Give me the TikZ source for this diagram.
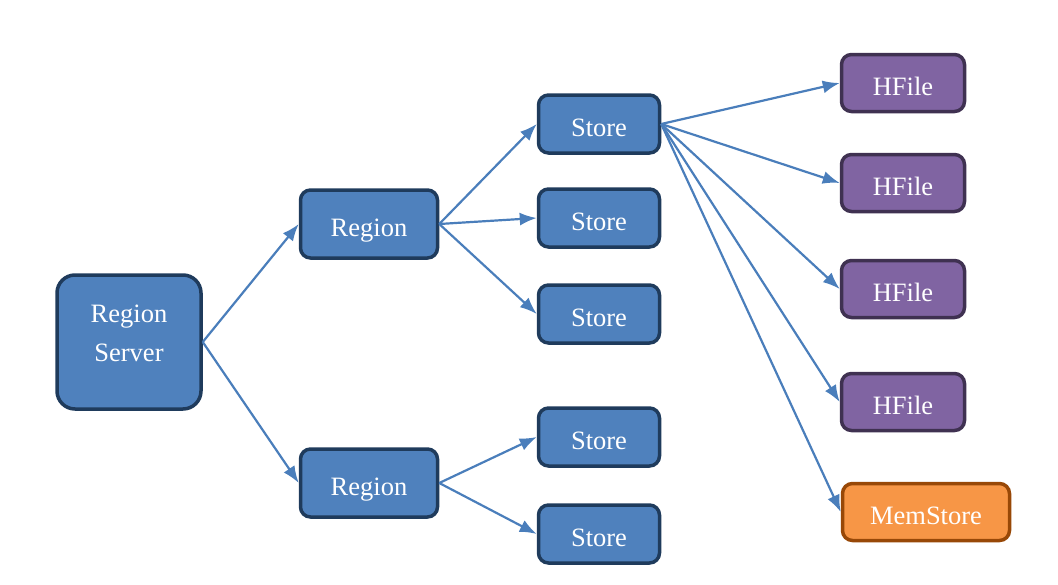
\documentclass[tikz,border=0pt]{standalone}
\usepackage{fontspec}
\setmainfont{Liberation Serif}
\usetikzlibrary{arrows.meta}
\definecolor{boxblue}{HTML}{4F81BD}
\definecolor{edgeblue}{HTML}{1F3B5C}
\definecolor{boxpurple}{HTML}{8064A2}
\definecolor{edgepurple}{HTML}{3F3151}
\definecolor{boxorange}{HTML}{F79646}
\definecolor{edgeorange}{HTML}{984807}
\definecolor{linkblue}{HTML}{4A7EBB}
\tikzset{
every node/.style={text=white, font=\fontsize{26.5}{39}\selectfont, inner sep=0pt, align=center}, % white serif labels
oneline/.style={text height=25pt, text depth=0pt}, % puts the baseline a little below the middle
blk/.style={draw=edgeblue, fill=boxblue, line width=3.5pt, rounded corners=10pt}, % Region and Store boxes
hfile/.style={oneline, draw=edgepurple, fill=boxpurple, line width=3.5pt, rounded corners=10pt, minimum width=123pt, minimum height=57pt}, % HFile boxes
memstore/.style={oneline, draw=edgeorange, fill=boxorange, line width=3.5pt, rounded corners=10pt, minimum width=167pt, minimum height=57pt}, % MemStore box
link/.style={-{Latex[length=17pt,width=13pt]}, draw=linkblue, line width=2.2pt}, % connectors
}

\begin{document}
\begin{tikzpicture}[x=1pt, y=-1pt]
    \useasboundingbox (0,0) rectangle (1058,584);
    \node[blk, rounded corners=18pt, minimum width=144pt, minimum height=134pt, text depth=17pt] (rs) at (129,342) {Region\\Server};
    \node[blk, oneline, minimum width=137pt, minimum height=68pt] (r1) at (369,224) {Region};
    \node[blk, oneline, minimum width=137pt, minimum height=68pt] (r2) at (369,483) {Region};
    \node[blk, oneline, minimum width=121pt, minimum height=58pt] (s1) at (599,124) {Store};
    \node[blk, oneline, minimum width=121pt, minimum height=58pt] (s2) at (599,218) {Store};
    \node[blk, oneline, minimum width=121pt, minimum height=58pt] (s3) at (599,314) {Store};
    \node[blk, oneline, minimum width=121pt, minimum height=58pt] (s4) at (599,437) {Store};
    \node[blk, oneline, minimum width=121pt, minimum height=58pt] (s5) at (599,534) {Store};
    \node[hfile] (h1) at (903,83) {HFile};
    \node[hfile] (h2) at (903,183) {HFile};
    \node[hfile] (h3) at (903,289) {HFile};
    \node[hfile] (h4) at (903,402) {HFile};
    \node[memstore] (ms) at (926,512) {MemStore};
    \draw[link] (rs.east) -- (r1.west);
    \draw[link] (rs.east) -- (r2.west);
    \draw[link] (r1.east) -- (s1.west);
    \draw[link] (r1.east) -- (s2.west);
    \draw[link] (r1.east) -- (s3.west);
    \draw[link] (r2.east) -- (s4.west);
    \draw[link] (r2.east) -- (s5.west);
    \draw[link] (s1.east) -- (h1.west);
    \draw[link] (s1.east) -- (h2.west);
    \draw[link] (s1.east) -- (h3.west);
    \draw[link] (s1.east) -- (h4.west);
    \draw[link] (s1.east) -- (ms.west);
  \end{tikzpicture}
\end{document}
